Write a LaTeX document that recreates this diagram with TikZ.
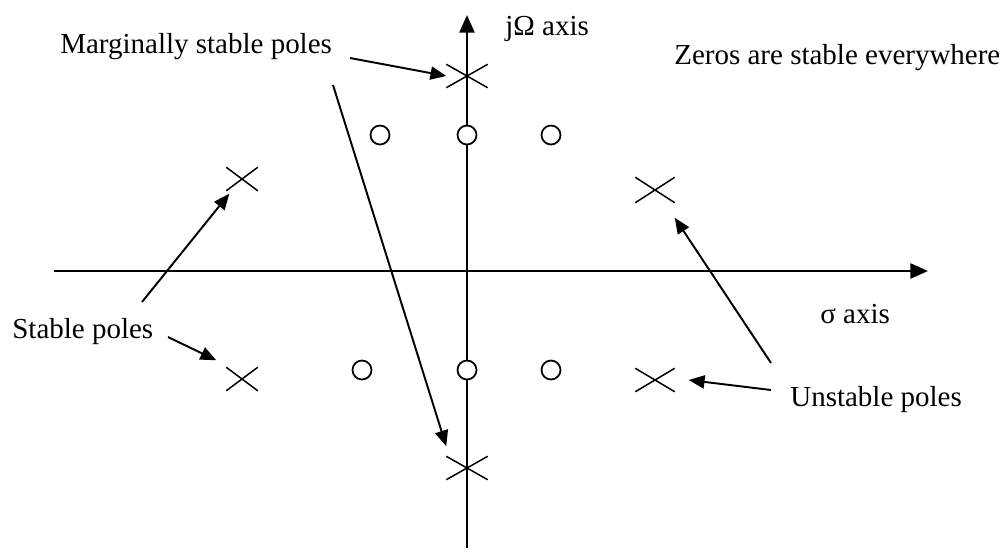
\documentclass[tikz,border=0pt]{standalone}
\usepackage{fontspec}
\setmainfont{Liberation Serif}
\usetikzlibrary{arrows.meta,shapes.misc,calc}

\begin{document}
\begin{tikzpicture}[x=0.02cm,y=-0.02cm,>={Triangle[length=9pt,width=7.5pt]}]
\tikzset{
  pole/.style={cross out,draw,inner sep=0pt,line width=0.85pt},
  zero/.style={circle,draw,fill=white,inner sep=0pt,minimum size=0.38cm,line width=1pt},
  lbl/.style={anchor=base west,inner sep=0pt,font=\fontsize{16.5}{20}\selectfont},
  ax/.style={line width=1.4pt,-{Triangle[length=10pt,width=8.5pt]}},
  arr/.style={line width=1.1pt,->}
}
\useasboundingbox (0,0) rectangle (1008,556);
% axes
\coordinate (xl) at (54,271);
\coordinate (xr) at (928,271);
\coordinate (yb) at (467,548);
\coordinate (yt) at (467,15);
\draw[ax] (xl) -- (xr);
\draw[ax] (yb) -- (yt);
% zeros
\foreach \n/\x/\y in {z1/380/135,z2/467/135,z3/551/135,z4/362/370,z5/467/370,z6/551/370}
  \node[zero] (\n) at (\x,\y) {};
% poles
\node[pole,minimum width=0.8cm,minimum height=0.44cm] (p1) at (467,76) {};
\node[pole,minimum width=0.8cm,minimum height=0.44cm] (p2) at (467,468) {};
\node[pole,minimum width=0.6cm,minimum height=0.44cm] (p3) at (242,179) {};
\node[pole,minimum width=0.6cm,minimum height=0.44cm] (p4) at (242,379) {};
\node[pole,minimum width=0.76cm,minimum height=0.48cm] (p5) at (655,190) {};
\node[pole,minimum width=0.76cm,minimum height=0.44cm] (p6) at (655,380) {};
% labels
\node[lbl] (jw) at (505,35) {jΩ axis};
\node[lbl] (sig) at (820,323) {σ axis};
\node[lbl] (zer) at (674,64) {Zeros are stable everywhere};
\node[lbl] (mar) at (60,53) {Marginally stable poles};
\node[lbl] (stb) at (12,338) {Stable poles};
\node[lbl] (uns) at (790,406) {Unstable poles};
% arrows
\coordinate (ma1) at (350,58);
\coordinate (ma2) at (333,85);
\coordinate (sa1) at (142,302);
\coordinate (sa2) at (168,337);
\coordinate (ua1) at (771,363);
\coordinate (ua2) at (771,390);
\draw[arr] (ma1) -- (p1.west);
\draw[arr] (ma2) -- ($(p2.north west)+(0,-10)$);
\draw[arr] (sa1) -- ($(p3.south west)+(3,3)$);
\draw[arr] (sa2) -- ($(p4.north west)+(-10,-7)$);
\draw[arr] (ua1) -- ($(p5.south east)+(0,15)$);
\draw[arr] (ua2) -- ($(p6.east)+(14,0)$);
\end{tikzpicture}
\end{document}
